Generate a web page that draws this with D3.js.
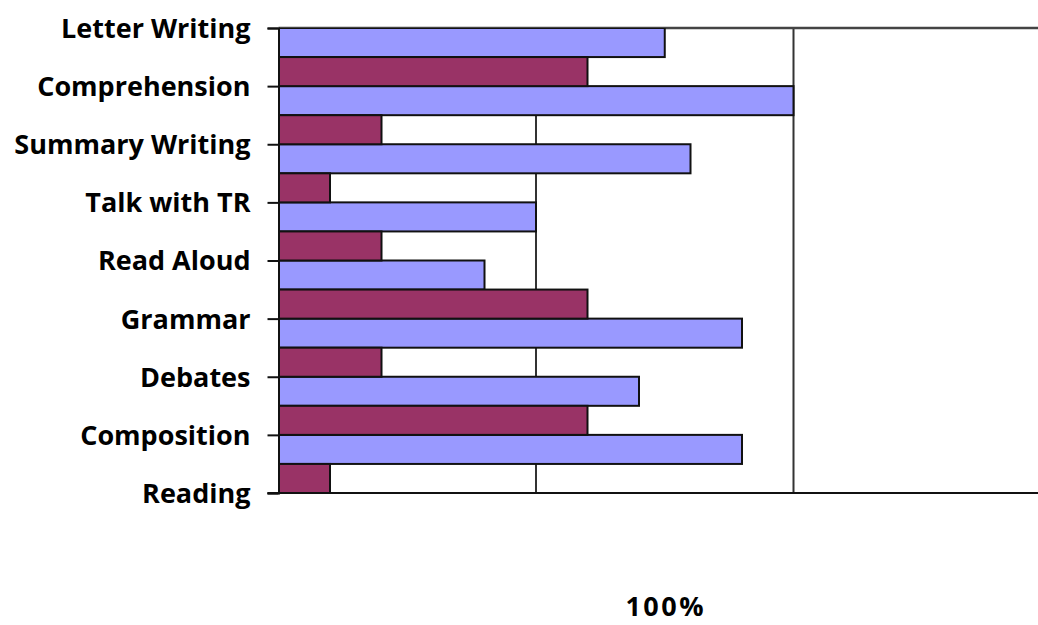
<html>
<head>
<meta charset="utf-8">
<style>
  body { margin: 0; background: #fff; }
  text { font-family: "Open Sans", Lato, sans-serif; font-weight: bold; fill: #000; }
</style>
</head>
<body>
<script src="https://d3js.org/d3.v7.min.js"></script>
<script>
// categories top to bottom
var categories = ["Letter Writing", "Comprehension", "Summary Writing", "Talk with TR",
                  "Read Aloud", "Grammar", "Debates", "Composition", "Reading"];
// blue bars sit below each tick, maroon bars above it
var blueValues   = [15, 20, 16, 10, 8, 18, 14, 18, 0];
var maroonValues = [0, 12, 4, 2, 4, 12, 4, 12, 2];
var gridValues = [10, 20, 30];
var axisTitle = "100%";

var width = 1038, height = 625;
var plotLeft = 278.5, plotRight = 1051, plotTop = 28, plotBottom = 493;

var svg = d3.select("body").append("svg")
    .attr("width", width)
    .attr("height", height);

var x = d3.scaleLinear().domain([0, 30]).range([plotLeft, plotRight]);
var y = d3.scalePoint().domain(categories).range([plotTop, plotBottom]);
var half = y.step() / 2;

svg.append("clipPath").attr("id", "plot")
  .append("rect")
    .attr("x", plotLeft).attr("y", plotTop)
    .attr("width", width - plotLeft).attr("height", plotBottom - plotTop);

// gridlines
svg.append("g").selectAll("line")
    .data(gridValues)
    .enter().append("line")
    .attr("x1", function(d) { return x(d); })
    .attr("x2", function(d) { return x(d); })
    .attr("y1", plotTop).attr("y2", plotBottom)
    .style("stroke", "#333").style("stroke-width", 2);

// top border of the plot
svg.append("line")
    .attr("x1", plotLeft).attr("x2", width)
    .attr("y1", plotTop).attr("y2", plotTop)
    .style("stroke", "#444").style("stroke-width", 2.5);

var bars = svg.append("g").attr("clip-path", "url(#plot)");

var blueData = categories.map(function(c, i) { return { cat: c, v: blueValues[i] }; })
    .filter(function(d) { return d.v > 0; });
var maroonData = categories.map(function(c, i) { return { cat: c, v: maroonValues[i] }; })
    .filter(function(d) { return d.v > 0; });

bars.selectAll(".blue")
    .data(blueData)
    .enter().append("rect")
    .attr("class", "blue")
    .attr("x", x(0))
    .attr("y", function(d) { return y(d.cat); })
    .attr("width", function(d) { return x(d.v) - x(0); })
    .attr("height", half)
    .style("fill", "#9999FF")
    .style("stroke", "#111").style("stroke-width", 2);

bars.selectAll(".maroon")
    .data(maroonData)
    .enter().append("rect")
    .attr("class", "maroon")
    .attr("x", x(0))
    .attr("y", function(d) { return y(d.cat) - half; })
    .attr("width", function(d) { return x(d.v) - x(0); })
    .attr("height", half)
    .style("fill", "#993366")
    .style("stroke", "#111").style("stroke-width", 2);

// left axis with ticks at each category
var yAxis = d3.axisLeft(y).tickSize(11).tickPadding(17);
var gy = svg.append("g")
    .attr("transform", "translate(" + plotLeft + ",0)")
    .call(yAxis);
gy.select(".domain").style("stroke", "#111").style("stroke-width", 2);
gy.selectAll(".tick line").style("stroke", "#111").style("stroke-width", 2);
gy.selectAll(".tick text")
    .style("font-size", "27px")
    .style("font-family", "'Open Sans', sans-serif")
    .style("font-weight", "bold")
    .attr("dy", "0.35em");

// bottom axis line
svg.append("line")
    .attr("x1", plotLeft - 11).attr("x2", width)
    .attr("y1", plotBottom).attr("y2", plotBottom)
    .style("stroke", "#111").style("stroke-width", 2);

// axis title
svg.append("text")
    .attr("x", (plotLeft + plotRight) / 2 + 1)
    .attr("y", 616)
    .attr("text-anchor", "middle")
    .style("font-size", "27px")
    .style("letter-spacing", "2.5px")
    .text(axisTitle);
</script>
</body>
</html>
